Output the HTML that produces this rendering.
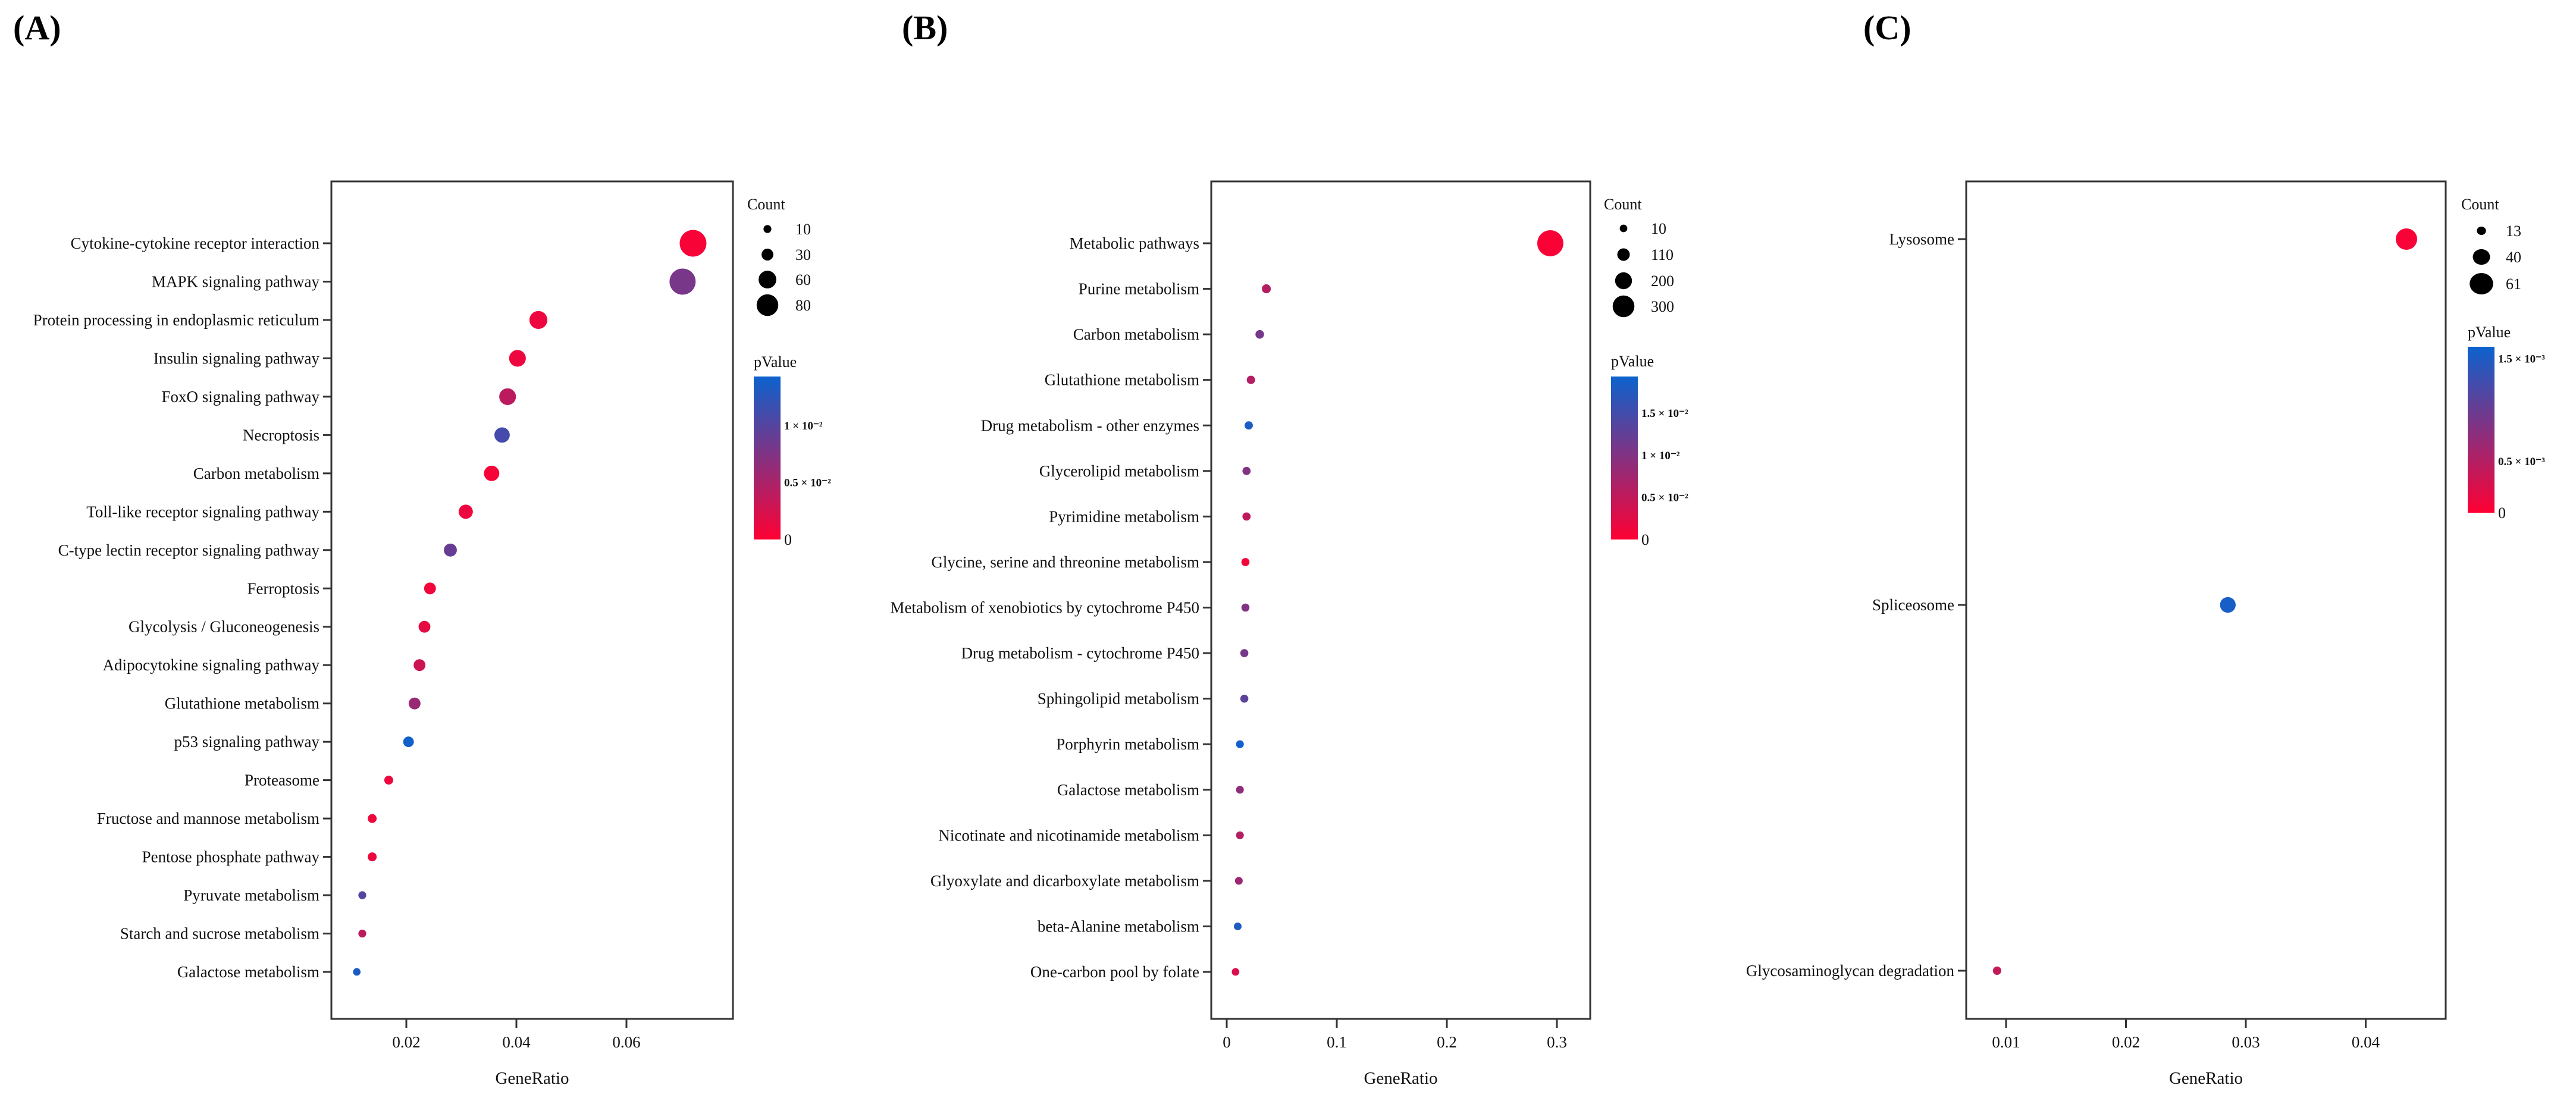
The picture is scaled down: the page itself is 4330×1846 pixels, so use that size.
<!DOCTYPE html>
<html><head><meta charset="utf-8"><style>
html,body{margin:0;padding:0;background:#fff;}
svg{display:block;font-family:"Liberation Serif",serif;}
</style></head><body>
<svg id="fig" width="4330" height="1846" viewBox="0 0 4330 1846" xmlns="http://www.w3.org/2000/svg">
<rect x="0" y="0" width="4330" height="1846" fill="#fff"/>
<text x="22" y="66" font-size="58" font-weight="bold">(A)</text>
<text x="1516" y="66" font-size="58" font-weight="bold">(B)</text>
<text x="3132" y="66" font-size="58" font-weight="bold">(C)</text>
</svg>
<script>
// ---------- Panel A data ----------
const catsA = ["Cytokine-cytokine receptor interaction","MAPK signaling pathway","Protein processing in endoplasmic reticulum","Insulin signaling pathway","FoxO signaling pathway","Necroptosis","Carbon metabolism","Toll-like receptor signaling pathway","C-type lectin receptor signaling pathway","Ferroptosis","Glycolysis / Gluconeogenesis","Adipocytokine signaling pathway","Glutathione metabolism","p53 signaling pathway","Proteasome","Fructose and mannose metabolism","Pentose phosphate pathway","Pyruvate metabolism","Starch and sucrose metabolism","Galactose metabolism"];
const ratioA = [0.0721,0.0702,0.044,0.0402,0.0384,0.0374,0.0355,0.0308,0.028,0.0243,0.0233,0.0224,0.0215,0.0204,0.0168,0.0138,0.0138,0.012,0.012,0.011];
const countA = [106,103,61,55,55,48,48,42,36,30,30,30,30,24,15,15,15,10,10,8];
const pA = [0.0005,0.008,0.001,0.001,0.004,0.011,0.0005,0.001,0.009,0.0008,0.0015,0.003,0.006,0.014,0.001,0.001,0.001,0.010,0.004,0.0135];
const xTicksA = [0.02,0.04,0.06];
const xTickLabelsA = ["0.02","0.04","0.06"];
const countLegA = [10,30,60,80];
const pTicksA = [0,0.005,0.01];
const pTickLabelsA = ["0","0.5 × 10⁻²","1 × 10⁻²"];

// ---------- Panel B data ----------
const catsB = ["Metabolic pathways","Purine metabolism","Carbon metabolism","Glutathione metabolism","Drug metabolism - other enzymes","Glycerolipid metabolism","Pyrimidine metabolism","Glycine, serine and threonine metabolism","Metabolism of xenobiotics by cytochrome P450","Drug metabolism - cytochrome P450","Sphingolipid metabolism","Porphyrin metabolism","Galactose metabolism","Nicotinate and nicotinamide metabolism","Glyoxylate and dicarboxylate metabolism","beta-Alanine metabolism","One-carbon pool by folate"];
const ratioB = [0.294,0.036,0.030,0.022,0.020,0.018,0.018,0.017,0.017,0.016,0.016,0.012,0.012,0.012,0.011,0.010,0.008];
const countB = [390,37,30,25,24,22,22,20,20,19,19,14,14,14,13,12,10];
const pB = [0.0005,0.006,0.011,0.006,0.018,0.010,0.005,0.001,0.010,0.011,0.013,0.019,0.009,0.006,0.008,0.018,0.003];
const xTicksB = [0,0.1,0.2,0.3];
const xTickLabelsB = ["0","0.1","0.2","0.3"];
const countLegB = [10,110,200,300];
const pTicksB = [0,0.005,0.01,0.015];
const pTickLabelsB = ["0","0.5 × 10⁻²","1 × 10⁻²","1.5 × 10⁻²"];

// ---------- Panel C data ----------
const catsC = ["Lysosome","Spliceosome","Glycosaminoglycan degradation"];
const ratioC = [0.0434,0.0285,0.00925];
const countC = [61,40,13];
const pC = [0.00005,0.00155,0.0004];
const xTicksC = [0.01,0.02,0.03,0.04];
const xTickLabelsC = ["0.01","0.02","0.03","0.04"];
const countLegC = [13,40,61];
const pTicksC = [0,0.0005,0.0015];
const pTickLabelsC = ["0","0.5 × 10⁻³","1.5 × 10⁻³"];

const NS = "http://www.w3.org/2000/svg";
const svg = document.getElementById("fig");
function mk(tag, parent){ const e=document.createElementNS(NS,tag); parent.appendChild(e); return e; }
function setA(e, o){ for(const k in o) e.setAttribute(k, o[k]); }
function lerpColor(t){
  t=Math.max(0,Math.min(1,t));
  const a=[255,0,51], b=[12,98,206];
  return "rgb("+a.map((v,i)=>Math.round(v+(b[i]-v)*t)).join(",")+")";
}

function drawPanel(P){
  const g = mk("g", svg);
  
  
  const xs = v => P.x0 + (v - P.v0) * P.k;
  const n = P.cats.length;
  const ys = i => P.rowTop + i * (P.rowBot - P.rowTop) / (n - 1);
  const rs = c => P.r0 + (c - P.c0) * P.rk;
  const pcol = p => lerpColor(p / P.pMax);
  const box = mk("rect", g);
  setA(box,{x:P.L,y:P.T,width:P.R-P.L,height:P.B-P.T,fill:"none",stroke:"#333","stroke-width":3});
  
  
  for(let i=0;i<n;i++){
    const y=ys(i);
    const t=mk("line",g); setA(t,{x1:P.L-14,x2:P.L,y1:y,y2:y,stroke:"#333","stroke-width":3});
    
    
    const tx=mk("text",g); setA(tx,{x:P.L-20,y:y+9,"font-size":27,"text-anchor":"end",fill:"#111"});
    tx.textContent=P.cats[i];
    
    
  }
  P.xTicks.forEach((v,i)=>{
    const x=xs(v);
    const t=mk("line",g); setA(t,{x1:x,x2:x,y1:P.B,y2:P.B+15,stroke:"#333","stroke-width":3});
    
    
    const tx=mk("text",g); setA(tx,{x:x,y:1761,"font-size":27,"text-anchor":"middle",fill:"#111"});
    tx.textContent=P.xLabels[i];
    
    
  });
  const xt=mk("text",g); setA(xt,{x:(P.L+P.R)/2,y:1822,"font-size":29,"text-anchor":"middle",fill:"#111"});
  xt.textContent="GeneRatio";
  
  
  for(let i=0;i<n;i++){
    const c=mk("circle",g);
    setA(c,{cx:xs(P.ratio[i]),cy:ys(i),r:rs(P.count[i]),fill:pcol(P.p[i])});
    
    
  }
  const ct=mk("text",g); setA(ct,{x:P.legX,y:P.countY+9,"font-size":26,fill:"#111"});
  ct.textContent="Count";
  
  
  P.countLeg.forEach((c,i)=>{
    const y=P.legY[i];
    const d=mk("ellipse",g); const r=rs(c);
    setA(d,{cx:P.legDotX,cy:y,rx:r*P.legAsp,ry:r,fill:"#000"});
    
    
    const tx=mk("text",g); setA(tx,{x:P.legLabX,y:y+9,"font-size":26,fill:"#111"});
    tx.textContent=String(c);
    
    
  });
  const pt=mk("text",g); setA(pt,{x:P.cbX,y:P.pTitleY+9,"font-size":26,fill:"#111"});
  pt.textContent="pValue";
  
  
  const gid="grad-"+P.name;
  const defs=mk("defs",g); const lg=mk("linearGradient",defs);
  setA(lg,{id:gid,x1:0,y1:1,x2:0,y2:0});
  const s1=mk("stop",lg); setA(s1,{offset:"0","stop-color":lerpColor(0)});
  const s2=mk("stop",lg); setA(s2,{offset:"1","stop-color":lerpColor((P.cbB-P.cbT)/(P.cbB-P.cbT))});
  const cb=mk("rect",g); setA(cb,{x:P.cbX,y:P.cbT,width:45,height:P.cbB-P.cbT,fill:"url(#"+gid+")"});
  
  
  const cys = p => P.cbB - p / P.pMax * (P.cbB - P.cbT);
  P.pTicks.forEach((v,i)=>{
    const y=cys(v);
    const tx=mk("text",g);
    const zero = v===0;
    setA(tx,{x:P.cbX+51,y:y+(zero?9:6),"font-size":zero?26:19,"font-weight":zero?"normal":"bold",fill:"#111"});
    tx.textContent=P.pLabels[i];
    
    
  });
}

drawPanel({name:"panel-a",cats:catsA,ratio:ratioA,count:countA,p:pA,xTicks:xTicksA,xLabels:xTickLabelsA,
  countLeg:countLegA,pTicks:pTicksA,pLabels:pTickLabelsA,
  L:557,R:1232,T:305,B:1713,x0:683,v0:0.02,k:9250,rowTop:409,rowBot:1634,
  r0:6.65,c0:10,rk:0.165,pMax:0.01435,
  legX:1256,countY:343,legY:[385,428,470,513],legDotX:1290,legLabX:1337,legAsp:1,
  pTitleY:608,cbX:1267,cbT:633,cbB:907});
drawPanel({name:"panel-b",cats:catsB,ratio:ratioB,count:countB,p:pB,xTicks:xTicksB,xLabels:xTickLabelsB,
  countLeg:countLegB,pTicks:pTicksB,pLabels:pTickLabelsB,
  L:2036,R:2673,T:305,B:1713,x0:2062,v0:0,k:1850,rowTop:409,rowBot:1634,
  r0:6.4,c0:10,rk:0.041,pMax:0.0194,
  legX:2696,countY:343,legY:[384,428,472,515],legDotX:2729,legLabX:2775,legAsp:1,
  pTitleY:607,cbX:2708,cbT:633,cbB:907});
drawPanel({name:"panel-c",cats:catsC,ratio:ratioC,count:countC,p:pC,xTicks:xTicksC,xLabels:xTickLabelsC,
  countLeg:countLegC,pTicks:pTicksC,pLabels:pTickLabelsC,
  L:3305,R:4111,T:305,B:1713,x0:3372,v0:0.01,k:20150,rowTop:402,rowBot:1632,
  r0:7,c0:13,rk:0.229,pMax:0.00162,
  legX:4137,countY:343,legY:[388,432,477],legDotX:4171,legLabX:4212,legAsp:1.1,
  pTitleY:558,cbX:4148,cbT:583,cbB:862});
</script>
</body></html>
